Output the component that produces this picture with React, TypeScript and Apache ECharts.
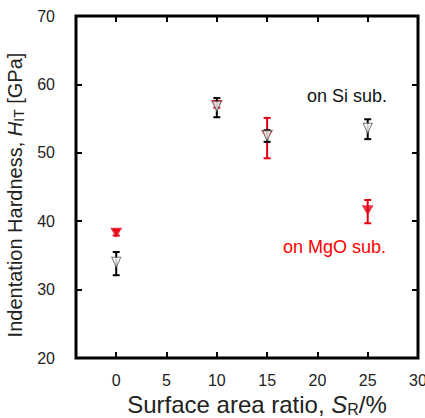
import React, { useEffect, useRef } from "react";
import * as echarts from "echarts";

const xValues = [0, 10, 15, 25];
const siMean = [34.0, 56.8, 52.5, 53.6];
const siLow = [32.1, 55.2, 51.6, 52.0];
const siHigh = [35.5, 58.0, 53.3, 54.9];
const mgoMean = [38.3, 57.0, 52.6, 41.6];
const mgoLow = [37.9, 56.6, 49.2, 39.7];
const mgoHigh = [38.7, 57.5, 55.1, 43.1];
const xTicks = [0, 5, 10, 15, 20, 25, 30];

const RED = "#e60012";
const FONT = "'Liberation Sans', Arial, sans-serif";

function errItem(color: string) {
  return (params: any, api: any) => {
    const x = api.value(0);
    const lo = api.coord([x, api.value(1)]);
    const hi = api.coord([x, api.value(2)]);
    const cap = 3.5;
    const style = { stroke: color, lineWidth: 2 };
    return {
      type: "group",
      children: [
        { type: "line", shape: { x1: lo[0], y1: lo[1], x2: hi[0], y2: hi[1] }, style },
        { type: "line", shape: { x1: lo[0] - cap, y1: lo[1], x2: lo[0] + cap, y2: lo[1] }, style },
        { type: "line", shape: { x1: hi[0] - cap, y1: hi[1], x2: hi[0] + cap, y2: hi[1] }, style },
      ],
    };
  };
}

export default function App() {
  const ref = useRef<HTMLDivElement>(null);
  useEffect(() => {
    const chart = echarts.init(ref.current!, null, { renderer: "svg" });
    const siErr = xValues.map((x, i) => [x, siLow[i], siHigh[i]]);
    const mgoErr = xValues.map((x, i) => [x, mgoLow[i], mgoHigh[i]]);
    const siPts = xValues.map((x, i) => [x, siMean[i]]);
    const mgoPts = xValues.map((x, i) => [x, mgoMean[i]]);
    const tick = { inside: true, length: 6, lineStyle: { color: "#000", width: 2 } };
    chart.setOption({
      animation: false,
      backgroundColor: "#fff",
      grid: {
        left: 76,
        right: 7,
        top: 16,
        bottom: 60,
        containLabel: false,
        outerBoundsMode: "none",
        show: true,
        borderColor: "#000",
        borderWidth: 3,
        backgroundColor: "transparent",
      },
      xAxis: [
        {
          type: "value",
          min: -4,
          max: 30,
          position: "bottom",
          axisLine: { show: false, onZero: false },
          splitLine: { show: false },
          axisTick: { ...tick, customValues: xTicks },
          axisLabel: {
            customValues: xTicks,
            color: "#222",
            fontSize: 16,
            fontFamily: FONT,
            margin: 14,
          },
          name: "{a|Surface area ratio, }{i|S}{s|R}{a|/%}",
          nameLocation: "middle",
          nameGap: 34,
          nameTextStyle: {
            padding: [0, 0, 0, 20],
            rich: {
              a: { fontSize: 24, fontFamily: FONT, color: "#222" },
              i: { fontSize: 24, fontFamily: FONT, fontStyle: "italic", color: "#222" },
              s: { fontSize: 16, fontFamily: FONT, color: "#222", padding: [9, 0, 0, 0] },
            },
          },
        },
        {
          type: "value",
          min: -4,
          max: 30,
          position: "top",
          axisLine: { show: false, onZero: false },
          splitLine: { show: false },
          axisLabel: { show: false },
          axisTick: { ...tick, customValues: xTicks },
        },
      ],
      yAxis: [
        {
          type: "value",
          min: 20,
          max: 70,
          interval: 10,
          position: "left",
          axisLine: { show: false, onZero: false },
          splitLine: { show: false },
          axisTick: tick,
          axisLabel: { color: "#222", fontSize: 16, fontFamily: FONT, margin: 21 },
          name: "{a|Indentation Hardness, }{i|H}{s|IT}{a| [GPa]}",
          nameLocation: "middle",
          nameGap: 34,
          nameTextStyle: {
            padding: [0, 16, 0, 0],
            rich: {
              a: { fontSize: 20, fontFamily: FONT, color: "#222" },
              i: { fontSize: 20, fontFamily: FONT, fontStyle: "italic", color: "#222" },
              s: { fontSize: 14, fontFamily: FONT, color: "#222", padding: [8, 0, 0, 0] },
            },
          },
        },
        {
          type: "value",
          min: 20,
          max: 70,
          interval: 10,
          position: "right",
          axisLine: { show: false, onZero: false },
          splitLine: { show: false },
          axisLabel: { show: false },
          axisTick: tick,
        },
      ],
      graphic: [
        {
          type: "text",
          left: 307,
          top: 87,
          style: { text: "on Si sub.", fontSize: 18, fontFamily: FONT, fill: "#111" },
        },
        {
          type: "text",
          left: 283,
          top: 238,
          style: { text: "on MgO sub.", fontSize: 18, fontFamily: FONT, fill: "#ff0000" },
        },
      ],
      series: [
        {
          type: "custom",
          name: "MgO err",
          renderItem: errItem(RED),
          data: mgoErr,
          encode: { x: 0, y: [1, 2] },
          z: 2,
        },
        {
          type: "scatter",
          name: "on MgO sub.",
          data: mgoPts,
          symbol: "triangle",
          symbolRotate: 180,
          symbolSize: [12, 10],
          itemStyle: { color: RED },
          z: 3,
        },
        {
          type: "custom",
          name: "Si err",
          renderItem: errItem("#000"),
          data: siErr,
          encode: { x: 0, y: [1, 2] },
          z: 4,
        },
        {
          type: "scatter",
          name: "on Si sub.",
          data: siPts,
          symbol: "triangle",
          symbolRotate: 180,
          symbolSize: [9, 10],
          itemStyle: { color: "#fff", borderColor: "#555", borderWidth: 1 },
          z: 5,
        },
      ],
    });
    return () => chart.dispose();
  }, []);
  return (
    <div
      ref={ref}
      style={{ position: "fixed", left: 0, top: 0, width: 425, height: 418 }}
    />
  );
}
